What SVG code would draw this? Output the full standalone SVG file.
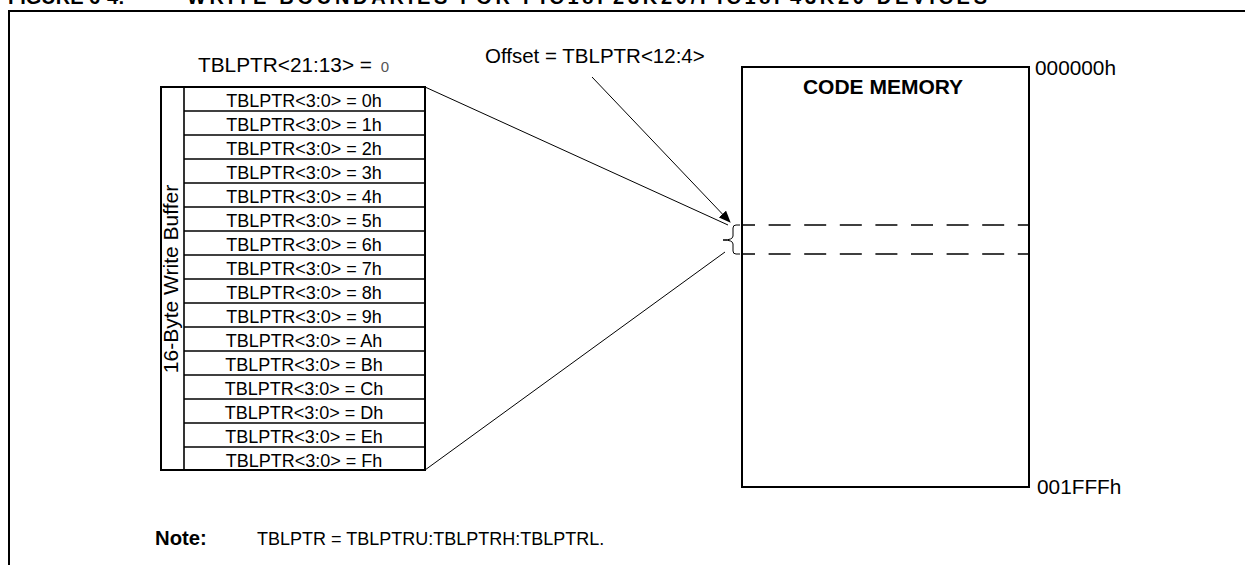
<svg xmlns="http://www.w3.org/2000/svg" width="1245" height="565" viewBox="0 0 1245 565">
<style>
.t{font-family:"Liberation Sans",Arial,sans-serif;font-size:18px;fill:#000}
.c{text-anchor:middle}
.b{font-weight:bold}
.box{fill:none;stroke:#000;stroke-width:2}
.row{fill:none;stroke:#000;stroke-width:1.6}
.ln{fill:none;stroke:#000;stroke-width:1}
.dash{fill:none;stroke:#000;stroke-width:1.6;stroke-dasharray:22 13.6;stroke-dashoffset:8}
</style>
<defs>
<marker id="ah" markerWidth="12" markerHeight="10" refX="11" refY="5" orient="auto" markerUnits="userSpaceOnUse">
<path d="M0,0 L12,5 L0,10 Z" fill="#000"/>
</marker>
</defs>
<rect width="1245" height="565" fill="#fff"/>
<g id="title">
<text class="t b" x="8" y="4" style="font-size:20px">FIGURE 6-4:</text>
<text class="t b" x="187" y="4" style="font-size:20px" textLength="800" lengthAdjust="spacing">WRITE BOUNDARIES FOR PIC18F23K20/PIC18F43K20 DEVICES</text>
</g>
<path d="M9,565 V11 H1245" fill="none" stroke="#000" stroke-width="2"/>
<g id="buffer">
<text class="t" x="198" y="72" style="font-size:20.8px">TBLPTR&lt;21:13&gt; = <tspan dx="3" style="font-size:15px;fill:#555">0</tspan></text>
<rect class="box" x="161" y="87" width="264" height="383"/>
<line class="row" x1="184" y1="87" x2="184" y2="470"/>
<g class="row">
<line x1="184" y1="111" x2="425" y2="111"/>
<line x1="184" y1="135" x2="425" y2="135"/>
<line x1="184" y1="159" x2="425" y2="159"/>
<line x1="184" y1="183" x2="425" y2="183"/>
<line x1="184" y1="207" x2="425" y2="207"/>
<line x1="184" y1="231" x2="425" y2="231"/>
<line x1="184" y1="255" x2="425" y2="255"/>
<line x1="184" y1="279" x2="425" y2="279"/>
<line x1="184" y1="303" x2="425" y2="303"/>
<line x1="184" y1="327" x2="425" y2="327"/>
<line x1="184" y1="351" x2="425" y2="351"/>
<line x1="184" y1="375" x2="425" y2="375"/>
<line x1="184" y1="399" x2="425" y2="399"/>
<line x1="184" y1="423" x2="425" y2="423"/>
<line x1="184" y1="447" x2="425" y2="447"/>
</g>
<g class="t c">
<text x="304" y="107">TBLPTR&lt;3:0&gt; = 0h</text>
<text x="304" y="131">TBLPTR&lt;3:0&gt; = 1h</text>
<text x="304" y="155">TBLPTR&lt;3:0&gt; = 2h</text>
<text x="304" y="179">TBLPTR&lt;3:0&gt; = 3h</text>
<text x="304" y="203">TBLPTR&lt;3:0&gt; = 4h</text>
<text x="304" y="227">TBLPTR&lt;3:0&gt; = 5h</text>
<text x="304" y="251">TBLPTR&lt;3:0&gt; = 6h</text>
<text x="304" y="275">TBLPTR&lt;3:0&gt; = 7h</text>
<text x="304" y="299">TBLPTR&lt;3:0&gt; = 8h</text>
<text x="304" y="323">TBLPTR&lt;3:0&gt; = 9h</text>
<text x="304" y="347">TBLPTR&lt;3:0&gt; = Ah</text>
<text x="304" y="371">TBLPTR&lt;3:0&gt; = Bh</text>
<text x="304" y="395">TBLPTR&lt;3:0&gt; = Ch</text>
<text x="304" y="419">TBLPTR&lt;3:0&gt; = Dh</text>
<text x="304" y="443">TBLPTR&lt;3:0&gt; = Eh</text>
<text x="304" y="467">TBLPTR&lt;3:0&gt; = Fh</text>
</g>
<text class="t c" transform="translate(178,279) rotate(-90)" style="font-size:21px">16-Byte Write Buffer</text>
</g>
<g id="memory">
<rect class="box" x="742" y="67" width="287" height="420"/>
<text class="t b c" x="883" y="94" style="font-size:21px">CODE MEMORY</text>
<text class="t" x="1035" y="75" style="font-size:20.8px">000000h</text>
<text class="t" x="1037" y="494" style="font-size:20.8px">001FFFh</text>
<line class="dash" x1="741" y1="225" x2="1029" y2="225"/>
<line class="dash" x1="741" y1="254" x2="1029" y2="254"/>
<path class="ln" stroke-width="1.4" d="M740,225 H736 Q733,225 733,228 V236 Q733,240 723,240 Q733,240 733,244 V251 Q733,254 736,254 H740"/>
</g>
<g id="offset">
<text class="t" x="485" y="63" style="font-size:20.5px">Offset = TBLPTR&lt;12:4&gt;</text>
</g>
<g id="connectors">
<line class="ln" x1="425" y1="87" x2="728" y2="225"/>
<line class="ln" x1="425" y1="470" x2="725" y2="252"/>
<line class="ln" x1="592" y1="77" x2="730" y2="222" marker-end="url(#ah)"/>
</g>
<g id="note">
<text class="t b" x="155" y="545" style="font-size:20.3px">Note:</text>
<text class="t" x="257" y="545">TBLPTR = TBLPTRU:TBLPTRH:TBLPTRL.</text>
</g>
</svg>
